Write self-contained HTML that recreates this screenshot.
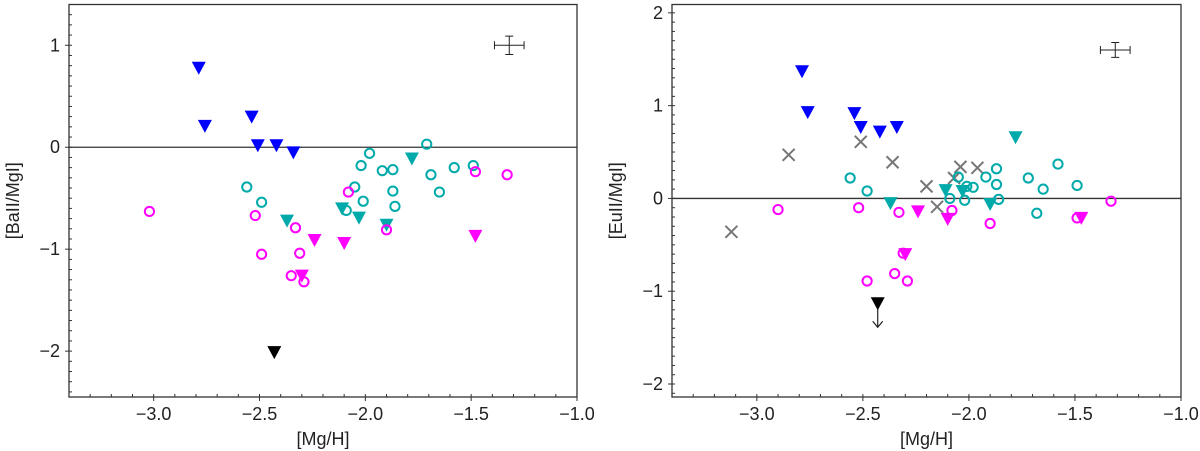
<!DOCTYPE html>
<html><head><meta charset="utf-8"><style>
body{margin:0;background:#fff;}
svg{display:block;font-family:"Liberation Sans","DejaVu Sans",sans-serif;}
</style></head><body>
<svg id="chart" width="1200" height="451" viewBox="0 0 1200 451" xmlns="http://www.w3.org/2000/svg"></svg>
<script>
// Left panel data [Ba II/Mg I]
const baBlueTriX=[-2.787,-2.758,-2.537,-2.508,-2.42,-2.34];
const baBlueTriY=[0.78,0.21,0.30,0.02,0.02,-0.05];
const baTealTriX=[-2.37,-2.11,-2.03,-1.90,-1.78];
const baTealTriY=[-0.72,-0.60,-0.69,-0.76,-0.11];
const baTealCircX=[-2.56,-2.49,-2.09,-2.05,-2.01,-2.02,-1.98,-1.92,-1.87,-1.87,-1.86,-1.71,-1.69,-1.65,-1.58,-1.49];
const baTealCircY=[-0.39,-0.54,-0.62,-0.39,-0.53,-0.18,-0.06,-0.23,-0.22,-0.43,-0.58,0.03,-0.27,-0.44,-0.20,-0.18];
const baMagCircX=[-3.02,-2.52,-2.33,-2.49,-2.31,-2.35,-2.29,-2.08,-1.90,-1.48,-1.33];
const baMagCircY=[-0.63,-0.67,-0.79,-1.05,-1.04,-1.26,-1.32,-0.44,-0.81,-0.24,-0.27];
const baMagTriX=[-2.24,-2.10,-2.30,-1.48];
const baMagTriY=[-0.91,-0.94,-1.26,-0.87];
const baBlackTriX=[-2.43];
const baBlackTriY=[-2.01];
// Right panel data [Eu II/Mg I]
const euBlueTriX=[-2.787,-2.76,-2.54,-2.51,-2.42,-2.34];
const euBlueTriY=[1.37,0.93,0.92,0.77,0.72,0.77];
const euGrayXX=[-3.12,-2.85,-2.51,-2.36,-2.20,-2.15,-2.07,-2.04,-1.96];
const euGrayXY=[-0.36,0.47,0.61,0.39,0.13,-0.09,0.22,0.34,0.33];
const euTealCircX=[-2.56,-2.48,-2.05,-2.01,-1.98,-2.09,-2.02,-1.92,-1.87,-1.87,-1.86,-1.72,-1.65,-1.68,-1.58,-1.49];
const euTealCircY=[0.22,0.08,0.23,0.13,0.12,0.00,-0.02,0.23,0.32,0.15,-0.01,0.22,0.10,-0.16,0.37,0.14];
const euTealTriX=[-2.37,-2.11,-2.03,-1.90,-1.78];
const euTealTriY=[-0.05,0.09,0.08,-0.06,0.66];
const euMagCircX=[-2.90,-2.52,-2.33,-2.08,-1.90,-1.33,-1.49,-2.31,-2.48,-2.35,-2.29];
const euMagCircY=[-0.12,-0.10,-0.15,-0.13,-0.27,-0.03,-0.21,-0.59,-0.89,-0.81,-0.89];
const euMagTriX=[-2.24,-2.10,-2.30,-1.47];
const euMagTriY=[-0.14,-0.22,-0.60,-0.21];
const euBlackTriX=[-2.43];
const euBlackTriY=[-1.13];
const xTicks=[-3.0,-2.5,-2.0,-1.5,-1.0];
const xTickLabels=["\u22123.0","\u22122.5","\u22122.0","\u22121.5","\u22121.0"];
const baYTicks=[-2,-1,0,1];
const baYTickLabels=["\u22122","\u22121","0","1"];
const euYTicks=[-2,-1,0,1,2];
const euYTickLabels=["\u22122","\u22121","0","1","2"];

const NS="http://www.w3.org/2000/svg";
const svg=document.getElementById('chart');
function mk(tag,attrs,parent){const e=document.createElementNS(NS,tag);for(const k in attrs)e.setAttribute(k,attrs[k]);(parent||svg).appendChild(e);return e;}

function panel(o){
  const g=mk('g',{});
  
  
  const X=v=>o.x0+(v-o.xmin)/(o.xmax-o.xmin)*(o.x1-o.x0);
  const Y=v=>o.y1-(v-o.ymin)/(o.ymax-o.ymin)*(o.y1-o.y0);
  for(let v=-3.4;v<=-0.99;v+=0.1){const px=X(v);mk('line',{x1:px,x2:px,y1:o.y1,y2:o.y1-3,stroke:'#333','stroke-width':1},g);}
  for(let v=Math.ceil(o.ymin*10)/10;v<=o.ymax;v+=0.1){const py=Y(v);mk('line',{x1:o.x0,x2:o.x0+3,y1:py,y2:py,stroke:'#333','stroke-width':1},g);}
  const zl=mk('line',{x1:o.x0,x2:o.x1,y1:Y(0),y2:Y(0),stroke:'#333','stroke-width':1.3},g);
  
  
  xTicks.forEach((v,i)=>{const px=X(v);mk('line',{x1:px,x2:px,y1:o.y1,y2:o.y1+4,stroke:'#333','stroke-width':1},g);
    const t=mk('text',{x:px,y:o.y1+23,'text-anchor':'middle','font-size':18,fill:'#222'},g);t.textContent=xTickLabels[i];
    
    });
  o.yt.forEach((v,i)=>{const py=Y(v);mk('line',{x1:o.x0-4,x2:o.x0,y1:py,y2:py,stroke:'#333','stroke-width':1},g);
    const t=mk('text',{x:o.x0-9,y:py+6,'text-anchor':'end','font-size':18,fill:'#222'},g);t.textContent=o.ytl[i];
    
    });
  const xt=mk('text',{x:(o.x0+o.x1)/2,y:445,'text-anchor':'middle','font-size':18,fill:'#222'},g);xt.textContent='[Mg/H]';
  
  
  const yt=mk('text',{x:0,y:0,'text-anchor':'middle','font-size':18,fill:'#222',transform:`translate(${o.x0-50},${(o.y0+o.y1)/2}) rotate(-90)`},g);yt.textContent=o.ylabel;
  
  
  const tri=(xs,ys,c,nm)=>xs.forEach((x,i)=>{const px=X(x),py=Y(ys[i]);const p=mk('path',{d:`M${px-7},${py-6}L${px+7},${py-6}L${px},${py+7}Z`,fill:c},g);
    
    });
  const circ=(xs,ys,c,nm)=>xs.forEach((x,i)=>{const p=mk('circle',{cx:X(x),cy:Y(ys[i]),r:4.6,fill:'none',stroke:c,'stroke-width':2},g);
    
    });
  const cross=(xs,ys,c,nm)=>xs.forEach((x,i)=>{const px=X(x),py=Y(ys[i]);const p=mk('path',{d:`M${px-6},${py-6}L${px+6},${py+6}M${px-6},${py+6}L${px+6},${py-6}`,stroke:c,'stroke-width':2},g);
    
    });
  o.series.forEach(s=>{({tri,circ,cross})[s.t](s.x,s.y,s.c,s.n);});
  const ex=X(o.err[0]),ey=Y(o.err[1]),dx=o.err[2]*(o.x1-o.x0)/(o.xmax-o.xmin),dy=o.err[3]*(o.y1-o.y0)/(o.ymax-o.ymin);
  const eb=mk('path',{d:`M${ex-dx},${ey}H${ex+dx}M${ex},${ey-dy}V${ey+dy}M${ex-dx},${ey-4}V${ey+4}M${ex+dx},${ey-4}V${ey+4}M${ex-4},${ey-dy}H${ex+4}M${ex-4},${ey+dy}H${ex+4}`,stroke:'#222','stroke-width':1,fill:'none'},g);
  
  
  if(o.arrow){const px=X(o.arrow[0]),py=Y(o.arrow[1]);const a=mk('path',{d:`M${px},${py+6}V${py+24}M${px-5},${py+18}L${px},${py+24}L${px+5},${py+18}`,stroke:'#222','stroke-width':1.2,fill:'none'},g);
    
    }
  const fr=mk('rect',{x:o.x0,y:o.y0,width:o.x1-o.x0,height:o.y1-o.y0,fill:'none',stroke:'#333','stroke-width':1.3},g);
  
  
}
panel({name:'ba-panel',x0:69,x1:577,y0:4.5,y1:397,xmin:-3.4,xmax:-1.0,ymin:-2.45,ymax:1.40,yt:baYTicks,ytl:baYTickLabels,ylabel:'[BaII/MgI]',
  err:[-1.32,1.0,0.07,0.09],
  series:[{t:'tri',x:baBlueTriX,y:baBlueTriY,c:'#0000ff',n:'blue-triangle'},{t:'circ',x:baTealCircX,y:baTealCircY,c:'#00aaaa',n:'teal-circle'},
  {t:'tri',x:baTealTriX,y:baTealTriY,c:'#00aaaa',n:'teal-triangle'},{t:'circ',x:baMagCircX,y:baMagCircY,c:'#ff00ff',n:'magenta-circle'},
  {t:'tri',x:baMagTriX,y:baMagTriY,c:'#ff00ff',n:'magenta-triangle'},{t:'tri',x:baBlackTriX,y:baBlackTriY,c:'#000',n:'black-triangle'}]});
panel({name:'eu-panel',x0:672,x1:1181,y0:4.5,y1:397,xmin:-3.4,xmax:-1.0,ymin:-2.14,ymax:2.09,yt:euYTicks,ytl:euYTickLabels,ylabel:'[EuII/MgI]',
  err:[-1.31,1.60,0.07,0.08],arrow:[-2.43,-1.13],
  series:[{t:'cross',x:euGrayXX,y:euGrayXY,c:'#777',n:'gray-cross'},{t:'tri',x:euBlueTriX,y:euBlueTriY,c:'#0000ff',n:'blue-triangle'},{t:'circ',x:euTealCircX,y:euTealCircY,c:'#00aaaa',n:'teal-circle'},
  {t:'tri',x:euTealTriX,y:euTealTriY,c:'#00aaaa',n:'teal-triangle'},{t:'circ',x:euMagCircX,y:euMagCircY,c:'#ff00ff',n:'magenta-circle'},
  {t:'tri',x:euMagTriX,y:euMagTriY,c:'#ff00ff',n:'magenta-triangle'},{t:'tri',x:euBlackTriX,y:euBlackTriY,c:'#000',n:'black-triangle'}]});
</script>
</body></html>
